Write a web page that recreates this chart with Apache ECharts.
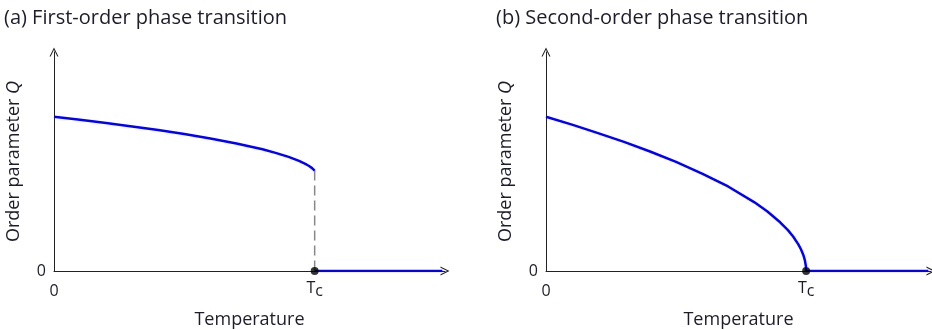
<!DOCTYPE html>
<html>
<head>
<meta charset="utf-8">
<script src="https://cdn.jsdelivr.net/npm/echarts@6/dist/echarts.min.js"></script>
<style>
  html, body { margin: 0; padding: 0; background: #fff; }
  #chart { width: 932px; height: 330px; }
</style>
</head>
<body>
<div id="chart"></div>
<script>
// Panel titles
const panelTitles = ['(a) First-order phase transition', '(b) Second-order phase transition'];

// (a) order parameter below Tc, jumping to zero at Tc
const tempA  = [0, 0.1, 0.2, 0.3, 0.4, 0.5, 0.6, 0.7, 0.8, 0.85, 0.9, 0.94, 0.97, 0.98, 0.99, 1.0];
const orderA = [1.000, 0.980, 0.959, 0.937, 0.914, 0.888, 0.859, 0.827, 0.789, 0.766, 0.740, 0.714, 0.689, 0.679, 0.667, 0.651];

// (b) order parameter going continuously to zero at Tc
const tempB  = [0, 0.1, 0.2, 0.3, 0.4, 0.5, 0.6, 0.7, 0.8, 0.85, 0.9, 0.93, 0.95, 0.97, 0.98, 0.99, 0.995, 0.999, 1.0];
const orderB = [1.000, 0.949, 0.894, 0.837, 0.775, 0.707, 0.632, 0.548, 0.447, 0.387, 0.316, 0.265, 0.224, 0.173, 0.141, 0.100, 0.071, 0.032, 0.000];

// Disordered phase above Tc (Q = 0)
const tempHighA = [1.0, 1.49];
const tempHighB = [1.0, 1.47];
const orderHigh = [0, 0];

// Temperature range of each panel
const tempMax = [1.5, 1.48];

// Critical temperature and tick labels
const tc = 1.0;
const xTickLabels = { 0: '{z|0}', 1: '{t|T}{c|c}' };
const yTickLabels = { 0: '0' };

const textColor = '#1c1c2b';
const fontFamily = '"Open Sans", "Noto Sans", sans-serif';
const blue = '#0000ff';
// open chevron for the axis arrow heads
const chevron = 'path://M0,10 L5,0 L10,10 L8.7,10 L5,2.6 L1.3,10 Z';

const pairs = (xs, ys) => xs.map((x, i) => [x, ys[i]]);

function makeXAxis(gridIndex) {
  return {
    gridIndex, type: 'value', min: 0, max: tempMax[gridIndex], interval: 0.5,
    name: 'Temperature', nameLocation: 'middle', nameGap: 40,
    nameTextStyle: { fontSize: 18, color: textColor, fontFamily },
    axisLine: { show: true, onZero: false, symbol: ['none', chevron], symbolSize: [9, 14],
      lineStyle: { color: '#222', width: 1 } },
    axisTick: { show: false },
    splitLine: { show: false },
    axisLabel: {
      margin: 9, color: textColor, fontSize: 16, fontFamily,
      showMinLabel: true, showMaxLabel: true,
      formatter: v => xTickLabels[v] !== undefined ? xTickLabels[v] : '',
      rich: {
        z: { fontSize: 16, color: textColor, fontFamily, verticalAlign: 'top', padding: [3, 0, 0, 0] },
        t: { fontSize: 16, color: textColor, fontFamily, verticalAlign: 'top' },
        c: { fontSize: 16, color: textColor, fontFamily, verticalAlign: 'top', padding: [3, 0, 0, 0] }
      }
    }
  };
}

function makeYAxis(gridIndex) {
  return {
    gridIndex, type: 'value', min: 0, max: 1.42, interval: 1,
    name: '{n|Order parameter }{q|Q}', nameLocation: 'middle', nameGap: 31, nameRotate: 90,
    nameTextStyle: {
      color: textColor, fontFamily,
      rich: {
        n: { fontSize: 18, color: textColor, fontFamily },
        q: { fontSize: 18, color: textColor, fontFamily, fontStyle: 'italic' }
      }
    },
    axisLine: { show: true, onZero: false, symbol: ['none', chevron], symbolSize: [9, 14],
      lineStyle: { color: '#222', width: 1 } },
    axisTick: { show: false },
    splitLine: { show: false },
    axisLabel: {
      margin: 8, color: textColor, fontSize: 16, fontFamily,
      showMaxLabel: false,
      formatter: v => yTickLabels[v] !== undefined ? yTickLabels[v] : ''
    }
  };
}

function panelSeries(i, temps, orders, tempsHigh, withJump) {
  const list = [
    { type: 'line', xAxisIndex: i, yAxisIndex: i, data: pairs(temps, orders), showSymbol: false,
      smooth: false, lineStyle: { color: blue, width: 2.5 }, z: 3 },
    { type: 'line', xAxisIndex: i, yAxisIndex: i, data: pairs(tempsHigh, orderHigh), showSymbol: false,
      lineStyle: { color: blue, width: 2.5 }, z: 3 },
    { type: 'scatter', xAxisIndex: i, yAxisIndex: i, data: [[tc, 0]], symbolSize: 8,
      itemStyle: { color: '#000' }, z: 5 }
  ];
  if (withJump) {
    list.push({ type: 'line', xAxisIndex: i, yAxisIndex: i,
      data: [[tc, orders[orders.length - 1]], [tc, 0]], showSymbol: false,
      lineStyle: { color: '#888', width: 1.5, type: [10, 5] }, z: 2 });
  }
  return list;
}

const chart = echarts.init(document.getElementById('chart'), null, { renderer: 'canvas' });
chart.setOption({
  animation: false,
  backgroundColor: '#fff',
  title: panelTitles.map((t, i) => ({
    text: t, left: i === 0 ? 4 : 496, top: 8, padding: 0,
    textStyle: { fontSize: 20, fontWeight: 'normal', color: textColor, fontFamily }
  })),
  grid: [
    { left: 54, top: 52, width: 391, height: 219, outerBoundsMode: 'none', containLabel: false },
    { left: 546, top: 52, width: 385, height: 219, outerBoundsMode: 'none', containLabel: false }
  ],
  xAxis: [makeXAxis(0), makeXAxis(1)],
  yAxis: [makeYAxis(0), makeYAxis(1)],
  series: [
    ...panelSeries(0, tempA, orderA, tempHighA, true),
    ...panelSeries(1, tempB, orderB, tempHighB, false)
  ]
});
</script>
</body>
</html>
